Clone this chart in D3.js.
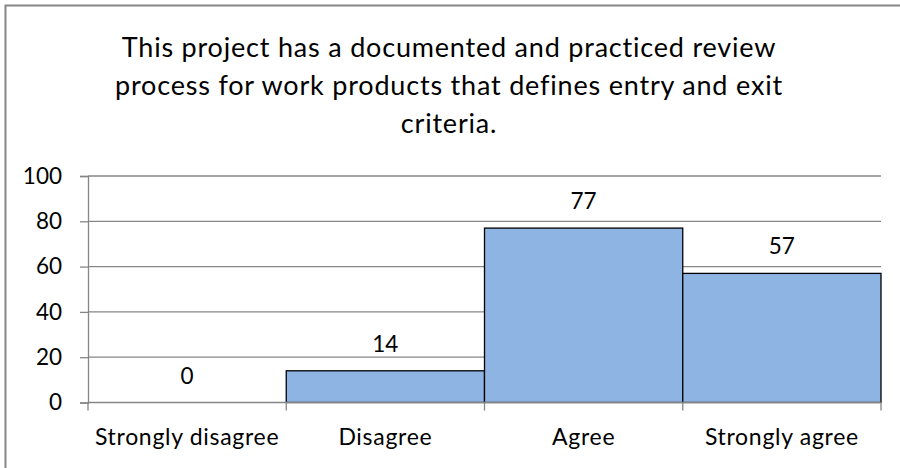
<!DOCTYPE html>
<html>
<head>
<meta charset="utf-8">
<script src="https://cdn.jsdelivr.net/npm/d3@7/dist/d3.min.js"></script>
<style>
  html, body { margin: 0; padding: 0; background: #fff; }
  svg { display: block; }
  text { font-family: Lato, "Open Sans", sans-serif; fill: #000; }
</style>
</head>
<body>
<svg id="chart" width="900" height="468"></svg>
<script>
// Survey responses
const categories = ["Strongly disagree", "Disagree", "Agree", "Strongly agree"];
const counts = [0, 14, 77, 57];
const yTicks = [0, 20, 40, 60, 80, 100];
const titleLines = [
  "This project has a documented and practiced review",
  "process for work products that defines entry and exit",
  "criteria."
];

const svg = d3.select("#chart");
const W = 900, H = 468;
const plot = { left: 88, right: 881, top: 176, bottom: 402.5 };
const gridColor = "#868686";
const labelFont = "22.5px";

// chart frame
svg.append("rect")
  .attr("x", 5.5).attr("y", 5.5)
  .attr("width", W).attr("height", H)
  .attr("fill", "#fff")
  .attr("stroke", gridColor).attr("stroke-width", 2);

// title
svg.append("g").selectAll("text").data(titleLines).join("text")
  .attr("x", 449)
  .attr("y", (d, i) => 57 + i * 38)
  .attr("text-anchor", "middle")
  .style("font-size", "27px")
  .style("letter-spacing", "0.8px")
  .text(d => d);

const x = d3.scaleBand().domain(categories)
  .range([plot.left, plot.right]).paddingInner(0).paddingOuter(0);
const y = d3.scaleLinear().domain([0, 100]).range([plot.bottom, plot.top]);

// horizontal gridlines
svg.append("g").selectAll("line").data(yTicks.filter(t => t > 0)).join("line")
  .attr("x1", plot.left).attr("x2", plot.right)
  .attr("y1", d => y(d)).attr("y2", d => y(d))
  .attr("stroke", gridColor).attr("stroke-width", 1.3);

// bars
svg.append("g").selectAll("rect").data(categories).join("rect")
  .attr("x", d => x(d))
  .attr("y", (d, i) => y(counts[i]))
  .attr("width", x.bandwidth())
  .attr("height", (d, i) => y(0) - y(counts[i]))
  .attr("fill", "#8db4e3")
  .attr("stroke", "#000").attr("stroke-width", 1.3)
  .style("display", (d, i) => counts[i] > 0 ? null : "none");

// value labels
svg.append("g").selectAll("text").data(categories).join("text")
  .attr("x", d => x(d) + x.bandwidth() / 2)
  .attr("y", (d, i) => y(counts[i]) - 19)
  .attr("text-anchor", "middle")
  .style("font-size", labelFont)
  .text((d, i) => counts[i]);

// y axis
const yAxis = d3.axisLeft(y).tickValues(yTicks).tickSize(8).tickPadding(18);
const gy = svg.append("g").attr("transform", `translate(${plot.left},0)`).call(yAxis);
gy.select(".domain").attr("stroke", gridColor).attr("stroke-width", 1.3);
gy.selectAll(".tick line").attr("stroke", gridColor).attr("stroke-width", 1.3);
gy.selectAll(".tick text")
  .style("font-size", labelFont)
  .style("font-family", "Lato, 'Open Sans', sans-serif")
  .attr("fill", "#000");

// x axis: ticks at category boundaries
const bounds = categories.map(c => x(c)).concat([plot.right]);
const gx = svg.append("g");
gx.append("line")
  .attr("x1", plot.left).attr("x2", plot.right)
  .attr("y1", plot.bottom).attr("y2", plot.bottom)
  .attr("stroke", gridColor).attr("stroke-width", 1.3);
gx.selectAll("line.tick").data(bounds).join("line").attr("class", "tick")
  .attr("x1", d => d).attr("x2", d => d)
  .attr("y1", plot.bottom).attr("y2", plot.bottom + 8)
  .attr("stroke", gridColor).attr("stroke-width", 1.3);
gx.selectAll("text").data(categories).join("text")
  .attr("x", d => x(d) + x.bandwidth() / 2)
  .attr("y", 445)
  .attr("text-anchor", "middle")
  .style("font-size", "23px")
  .style("letter-spacing", "0.7px")
  .text(d => d);
</script>
</body>
</html>
